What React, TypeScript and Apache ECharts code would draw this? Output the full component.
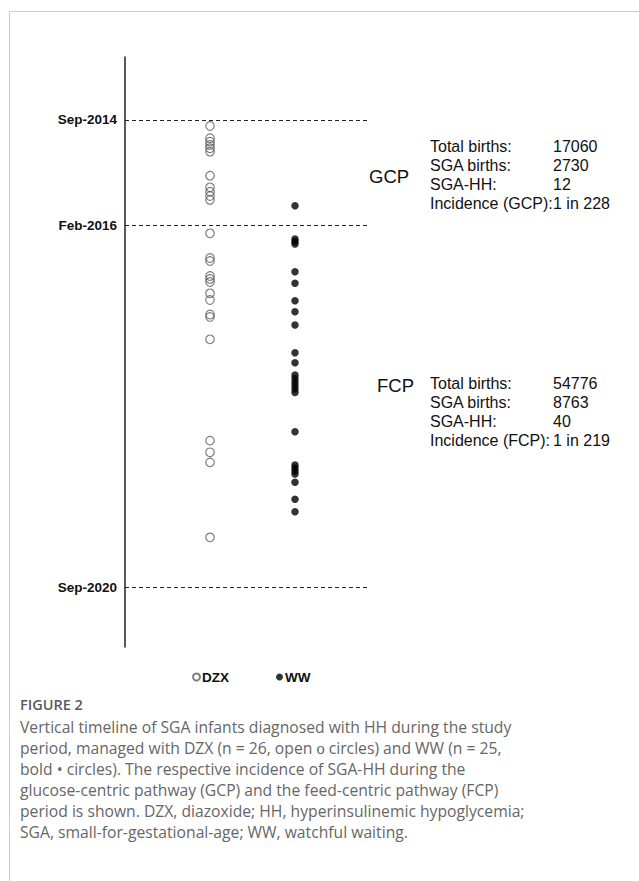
import React, { useEffect, useRef } from "react";
import * as echarts from "echarts";

// Timeline positions in months after Sep-2014
const periodLabels = ["Sep-2014", "Feb-2016", "Sep-2020"];
const periodMonths = [0, 16.3, 72];

const dzxMonths = [
  0.93, 2.82, 3.35, 3.85, 4.36, 4.89, 8.59, 10.38, 11.05, 11.72, 12.33,
  17.47, 21.28, 21.74, 24.05, 24.51, 24.98, 26.72, 27.75, 29.99, 30.37, 33.81,
  49.44, 51.23, 52.78, 64.34,
];
const wwMonths = [
  13.21, 18.35, 18.73, 19.12, 23.39, 25.18, 27.86, 29.56, 31.61, 35.88, 37.42,
  39.32, 39.86, 40.39, 40.93, 41.47, 42.01, 48.06, 53.19, 53.65, 54.12, 54.58,
  55.86, 58.48, 60.39,
];

const groupNames = ["DZX", "WW"];
const groupX = [1, 2];

const periodNames = ["GCP", "FCP"];
const gcpStatLabels = ["Total births:", "SGA births:", "SGA-HH:", "Incidence (GCP):"];
const gcpStatValues = ["17060", "2730", "12", "1 in 228"];
const fcpStatLabels = ["Total births:", "SGA births:", "SGA-HH:", "Incidence (FCP): "];
const fcpStatValues = ["54776", "8763", "40", "1 in 219"];

const captionTitle = "FIGURE 2";
const captionLines = [
  "Vertical timeline of SGA infants diagnosed with HH during the study",
  "period, managed with DZX (n = 26, open {s|o} circles) and WW (n = 25,",
  "bold • circles). The respective incidence of SGA-HH during the",
  "glucose-centric pathway (GCP) and the feed-centric pathway (FCP)",
  "period is shown. DZX, diazoxide; HH, hyperinsulinemic hypoglycemia;",
  "SGA, small-for-gestational-age; WW, watchful waiting.",
];

const ARIAL = "'Liberation Sans', Arial, sans-serif";
const CAP = "'Open Sans', 'Noto Sans', sans-serif";

export default function App() {
  const ref = useRef<HTMLDivElement>(null);

  useEffect(() => {
    if (!ref.current) return;
    const chart = echarts.init(ref.current, undefined, { renderer: "svg" });

    const statText = (labels: string[], values: string[], y0: number) => {
      const out: any[] = [];
      labels.forEach((l, i) => {
        out.push({
          type: "text",
          x: 430,
          y: y0 + i * 19,
          style: { text: l, fontSize: 16, fontFamily: ARIAL, fill: "#111", verticalAlign: "middle", align: "left" },
        });
        out.push({
          type: "text",
          x: 553,
          y: y0 + i * 19,
          style: { text: values[i], fontSize: 16, fontFamily: ARIAL, fill: "#111", verticalAlign: "middle", align: "left" },
        });
      });
      return out;
    };

    const graphic: any[] = [
      { type: "line", shape: { x1: 9.5, y1: 11.5, x2: 639, y2: 11.5 }, style: { stroke: "#cccccc", lineWidth: 1 } },
      { type: "line", shape: { x1: 9.5, y1: 11.5, x2: 9.5, y2: 881 }, style: { stroke: "#cccccc", lineWidth: 1 } },
      {
        type: "text", x: 369, y: 176,
        style: { text: periodNames[0], fontSize: 18.5, fontFamily: ARIAL, fill: "#111", verticalAlign: "middle" },
      },
      {
        type: "text", x: 377, y: 385,
        style: { text: periodNames[1], fontSize: 18.5, fontFamily: ARIAL, fill: "#111", verticalAlign: "middle" },
      },
      ...statText(gcpStatLabels, gcpStatValues, 146),
      ...statText(fcpStatLabels, fcpStatValues, 383),
      {
        type: "text", x: 20, y: 704,
        style: { text: captionTitle, fontSize: 14.5, fontWeight: 600, fontFamily: CAP, fill: "#5a5a5a", verticalAlign: "middle" },
      },
      ...captionLines.map((t, i) => ({
        type: "text",
        x: 20,
        y: 727 + i * 21,
        style: {
          text: t,
          fontSize: 15.7,
          fontFamily: CAP,
          fill: "#666",
          verticalAlign: "middle",
          rich: { s: { fontFamily: "'Liberation Serif', serif", fontSize: 16.5, fill: "#666" } },
        },
      })),
    ];

    const markData = periodMonths.map((m, i) => [
      { name: periodLabels[i], coord: [0, m] },
      { coord: [2.88, m] },
    ]);

    chart.setOption({
      animation: false,
      backgroundColor: "#ffffff",
      grid: { left: 125, top: 57, width: 255, height: 590, containLabel: false },
      xAxis: { type: "value", min: 0, max: 3, show: false },
      yAxis: {
        type: "value",
        inverse: true,
        min: -9.71,
        max: 81.25,
        axisLine: { show: true, lineStyle: { color: "#222", width: 1.5 } },
        axisTick: { show: false },
        axisLabel: { show: false },
        splitLine: { show: false },
      },
      legend: {
        data: groupNames,
        left: 187,
        top: 665,
        icon: "circle",
        itemWidth: 7,
        itemHeight: 7,
        itemGap: 47,
        textStyle: { fontFamily: ARIAL, fontWeight: "bold", fontSize: 13.5, color: "#111", padding: [0, 0, 0, -3] },
      },
      series: [
        {
          name: groupNames[0],
          type: "scatter",
          symbol: "circle",
          symbolSize: 8.5,
          data: dzxMonths.map((m) => [groupX[0], m]),
          itemStyle: { color: "rgba(255,255,255,0)", borderColor: "#5f5f5f", borderWidth: 1.2 },
          markLine: {
            silent: true,
            symbol: ["none", "none"],
            lineStyle: { type: [4, 3], color: "#222", width: 1 },
            label: {
              show: true,
              position: "start",
              formatter: "{b}",
              distance: 8,
              fontFamily: ARIAL,
              fontWeight: "bold",
              fontSize: 13.5,
              color: "#111",
            },
            data: markData,
          },
        },
        {
          name: groupNames[1],
          type: "scatter",
          symbol: "circle",
          symbolSize: 7.5,
          data: wwMonths.map((m) => [groupX[1], m]),
          itemStyle: { color: "#000" },
        },
      ],
      graphic,
    });

    return () => chart.dispose();
  }, []);

  return (
    <div
      ref={ref}
      style={{ position: "fixed", left: 0, top: 0, width: 639, height: 881, background: "#fff" }}
    />
  );
}
